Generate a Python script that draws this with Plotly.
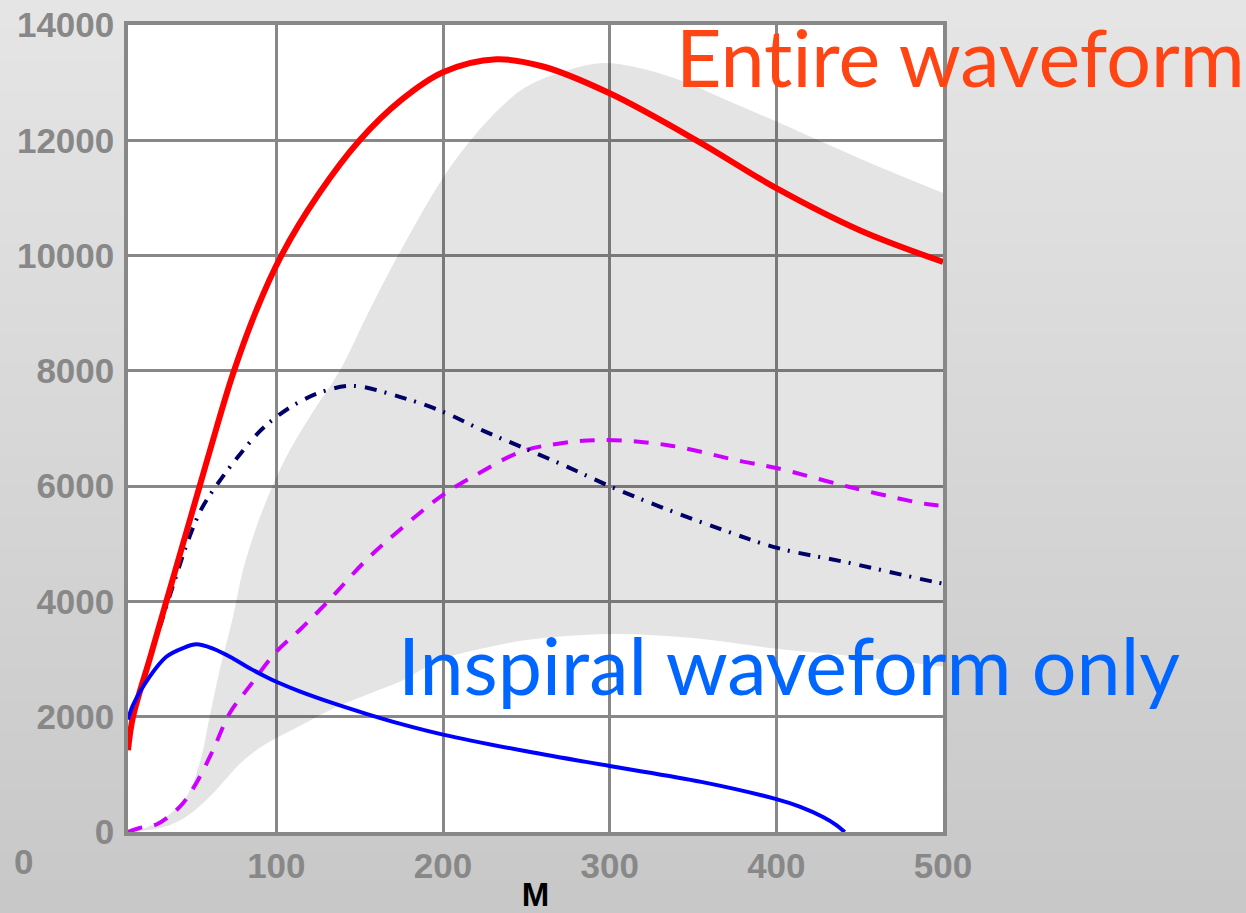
import plotly.graph_objects as go

# ---------------- data ----------------
red_x = [11, 14, 24, 34, 44, 54, 64, 74, 88, 103, 125, 150, 175, 200, 232, 260, 300, 352, 400, 450, 500]
red_y = [1420, 2000, 3000, 4000, 5000, 6000, 7000, 7950, 9050, 10000, 11050, 12000, 12700, 13180, 13405, 13280, 12815, 12000, 11170, 10440, 9890]

navy_x = [30, 40, 47, 55, 65, 77, 90, 100, 115, 130, 146, 174, 200, 225, 247, 275, 300, 330, 368, 400, 444, 494, 500]
navy_y = [3550, 4450, 5050, 5600, 6050, 6510, 6950, 7200, 7480, 7660, 7740, 7550, 7290, 6950, 6680, 6330, 6000, 5645, 5240, 4933, 4667, 4343, 4310]

purple_x = [11, 18, 28, 36, 44, 52, 62, 72, 84, 100, 114, 130, 154, 174, 200, 218, 247, 270, 295, 334, 380, 400, 444, 490, 500]
purple_y = [0, 70, 130, 280, 500, 850, 1420, 2060, 2530, 3128, 3505, 3970, 4720, 5240, 5850, 6165, 6600, 6740, 6800, 6715, 6425, 6315, 5985, 5690, 5660]

blue_x = [11, 14, 24, 34, 44, 52, 62, 74, 84, 94, 100, 114, 134, 154, 174, 200, 250, 300, 355, 400, 414, 428, 436, 441]
blue_y = [1950, 2200, 2695, 3040, 3190, 3256, 3180, 3010, 2840, 2690, 2607, 2440, 2235, 2050, 1880, 1690, 1400, 1145, 870, 570, 440, 260, 120, 0]

band_low_x = [11, 25, 35, 44, 52, 61, 70, 78, 88, 100, 114, 134, 163, 175, 200, 225, 250, 300, 350, 400, 450, 500]
band_low_y = [0, 40, 110, 230, 400, 640, 930, 1180, 1420, 1630, 1840, 2140, 2480, 2620, 3000, 3190, 3330, 3435, 3365, 3180, 3040, 2868]

band_up_x = [11, 22, 34, 46, 54, 60, 66, 74, 80, 90, 105, 120, 138, 155, 173, 200, 218, 235, 250, 275, 296, 314, 342, 370, 400, 434, 470, 500]
band_up_y = [0, 80, 265, 612, 1195, 2000, 2810, 3735, 4545, 5450, 6455, 7200, 8000, 9000, 10000, 11350, 12050, 12580, 12930, 13220, 13340, 13280, 13047, 12700, 12325, 11890, 11440, 11085]

x_ticks = [100, 200, 300, 400, 500]
x_ticktext = ["100", "200", "300", "400", "500"]
y_ticks = [0, 2000, 4000, 6000, 8000, 10000, 12000, 14000]
y_ticktext = ["0", "2000", "4000", "6000", "8000", "10000", "12000", "14000"]

label_entire = "Ent\u200cire waveform"
label_inspiral = "Inspiral waveform only"
x_title = "M"

# ---------------- figure ----------------
W, H = 1246, 913
ML, MR, MT, MB = 128, 303, 25, 81
PW, PH = W - ML - MR, H - MT - MB

def px_to_paper(px, py):
    return (px - ML) / PW, (H - MB - py) / PH

fig = go.Figure()

# grey shaded band (semi-transparent so gridlines show through)
fig.add_trace(go.Scatter(x=band_low_x, y=band_low_y, mode="lines",
                         line=dict(width=0, shape="spline"), hoverinfo="skip", showlegend=False))
fig.add_trace(go.Scatter(x=band_up_x, y=band_up_y, mode="lines", fill="tonexty",
                         fillcolor="rgba(0,0,0,0.105)",
                         line=dict(width=0, shape="spline"), hoverinfo="skip", showlegend=False))

fig.add_trace(go.Scatter(x=purple_x, y=purple_y, mode="lines",
                         line=dict(color="#cc00ff", width=4, dash="15px,12px", shape="spline"),
                         showlegend=False))
fig.add_trace(go.Scatter(x=navy_x, y=navy_y, mode="lines",
                         line=dict(color="#000066", width=4, dash="12px,8px,2px,9px", shape="spline"),
                         showlegend=False))
fig.add_trace(go.Scatter(x=red_x, y=red_y, mode="lines",
                         line=dict(color="#ff0000", width=6, shape="spline"),
                         showlegend=False))
fig.add_trace(go.Scatter(x=blue_x, y=blue_y, mode="lines",
                         line=dict(color="#0000ff", width=4, shape="spline"),
                         showlegend=False))

# background gradient (paper decoration)
shapes = []
n = 30
for i in range(n):
    py0 = i * H / n
    py1 = (i + 1) * H / n + 1
    c = int(round(229 - 29 * ((py0 + py1) / 2) / H))
    _, y0 = px_to_paper(0, py1)
    _, y1 = px_to_paper(0, py0 - 1)
    shapes.append(dict(type="rect", xref="paper", yref="paper", x0=-0.3, x1=1.5, y0=y0, y1=y1,
                       fillcolor=f"rgb({c},{c},{c})", line=dict(width=0), layer="below"))
shapes.append(dict(type="rect", xref="paper", yref="paper", x0=0, x1=1, y0=0, y1=1,
                   fillcolor="white", line=dict(width=0), layer="below"))

tickfont = dict(family="Liberation Sans, Arial, sans-serif", size=35, color="#888888", weight="bold")
axis_common = dict(showgrid=True, gridcolor="#888888", gridwidth=3,
                   showline=True, linecolor="#888888", linewidth=3.5, mirror=True,
                   zeroline=False, ticks="", ticklen=0, tickfont=tickfont, automargin=False)

fig.update_layout(
    width=W, height=H,
    margin=dict(l=ML, r=MR, t=MT, b=MB, pad=0, autoexpand=False),
    paper_bgcolor="#d8d8d8", plot_bgcolor="white",
    shapes=shapes,
    xaxis=dict(range=[11, 500], tickmode="array", tickvals=x_ticks, ticktext=x_ticktext,
               ticklabelstandoff=0,
               title=dict(text=x_title, standoff=20,
                          font=dict(family="Liberation Sans, Arial, sans-serif", size=33,
                                    color="black", weight="bold")),
               **axis_common),
    yaxis=dict(range=[0, 14000], tickmode="array", tickvals=y_ticks, ticktext=y_ticktext,
               ticklabelstandoff=3, **axis_common),
    showlegend=False,
)

ex, ey = px_to_paper(674, 7)
ix, iy = px_to_paper(396, 615)
zx, zy = px_to_paper(24, 862)
fig.add_annotation(text=label_entire, xref="paper", yref="paper", x=ex, y=ey,
                   xanchor="left", yanchor="top", showarrow=False,
                   font=dict(family="Lato, 'Open Sans', sans-serif", size=79, color="#ff4514"))
fig.add_annotation(text=label_inspiral, xref="paper", yref="paper", x=ix, y=iy,
                   xanchor="left", yanchor="top", showarrow=False,
                   font=dict(family="Lato, 'Open Sans', sans-serif", size=79, color="#0066ff"))
fig.add_annotation(text="0", xref="paper", yref="paper", x=zx, y=zy,
                   xanchor="center", yanchor="middle", showarrow=False, font=tickfont)

fig.write_html("out.html")
